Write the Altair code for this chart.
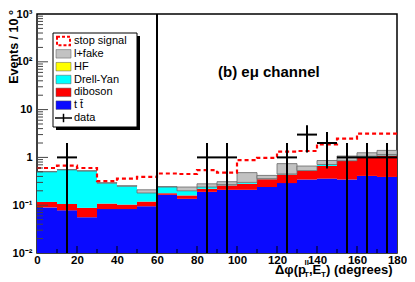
import altair as alt
import pandas as pd
import numpy as np

# ---------------- data ----------------
bin_lo = [0, 10, 20, 30, 40, 50, 60, 70, 80, 90, 100, 110, 120, 130, 140, 150, 160, 170]
ttbar = [0.090, 0.078, 0.056, 0.083, 0.083, 0.095, 0.165, 0.136, 0.19, 0.21, 0.21, 0.24,
         0.29, 0.345, 0.36, 0.345, 0.41, 0.39]
diboson = [0.027, 0.028, 0.032, 0.025, 0.020, 0.024, 0.013, 0.024, 0.03, 0.05, 0.07, 0.11,
           0.15, 0.175, 0.30, 0.495, 0.62, 0.71]
drell_yan = [0.383, 0.444, 0.432, 0.182, 0.147, 0.061, 0.062, 0.04, 0.02, 0.01, 0.02, 0.01,
             0.01, 0.01, 0.05, 0.01, 0.03, 0.05]
hf = [0, 0, 0, 0, 0, 0, 0, 0, 0, 0, 0, 0, 0, 0, 0, 0, 0, 0]
lfake = [0.005, 0.005, 0.005, 0.005, 0.005, 0.03, 0.005, 0.04, 0.04, 0.04, 0.18, 0.06,
         0.29, 0.13, 0.15, 0.22, 0.19, 0.25]
stop_total = [0.60, 0.67, 0.60, 0.32, 0.36, 0.39, 0.46, 0.45, 0.54, 0.48, 0.88, 0.98,
              1.32, 1.36, 1.88, 2.47, 3.15, 3.15]
data_counts = [0, 1, 0, 0, 0, 0, 0, 0, 1, 1, 0, 0, 1, 3, 2, 1, 1, 1]

proc_names = ["t t\u0304", "diboson", "Drell-Yan", "HF", "l+fake"]
proc_vals = [ttbar, diboson, drell_yan, hf, lfake]
proc_colors = ["#0a0aff", "#ff0000", "#00ffff", "#ffff00", "#c2c2c2"]
y_label_values = [0.01, 0.1, 1, 10, 100, 1000]
x_label_values = [0, 20, 40, 60, 80, 100, 120, 140, 160, 180]
legend_labels = ["stop signal", "l+fake", "HF", "Drell-Yan", "diboson", "t t\u0304", "data"]
legend_fills = ["#ffffff", "#c2c2c2", "#ffff00", "#00ffff", "#ff0000", "#0a0aff", "#ffffff"]

# ---------------- tables ----------------
BIN_W = 10
YMIN = 0.01
rows = []
for i, lo in enumerate(bin_lo):
    cum = 0.0
    for name, vals in zip(proc_names, proc_vals):
        bottom = max(cum, YMIN / 10)
        cum += vals[i]
        if vals[i] > 0:
            rows.append({"proc": name, "lo": lo, "hi": lo + BIN_W, "bottom": bottom, "top": cum})
stack_df = pd.DataFrame(rows)

stop_df = pd.DataFrame({"x": bin_lo + [bin_lo[-1] + BIN_W], "y": stop_total + [stop_total[-1]]})

drows = []
for lo, n in zip(bin_lo, data_counts):
    if n > 0:
        drows.append({"lo": lo, "hi": lo + BIN_W, "c": lo + BIN_W / 2, "n": n,
                      "elo": max(n - np.sqrt(n), YMIN / 10), "ehi": n + np.sqrt(n)})
data_df = pd.DataFrame(drows)

W, H = 360, 239
FONT = "Liberation Sans"
xs = alt.Scale(domain=[0, 180], nice=False, zero=False)
ys = alt.Scale(type="log", domain=[0.01, 1000], nice=False)


def X(f):
    return alt.X(f + ":Q", scale=xs, axis=None)


def Y(f):
    return alt.Y(f + ":Q", scale=ys, axis=None)


label_expr = ("datum.value < 0.05 ? '10\u207b\u00b2' : datum.value < 0.5 ? '10\u207b\u00b9' : "
              "datum.value < 5 ? '1' : datum.value < 50 ? '10' : datum.value < 500 ? '10\u00b2' : '10\u00b3'")

stack = alt.Chart(stack_df).mark_rect(clip=True).encode(
    x=alt.X("lo:Q", scale=xs, axis=alt.Axis(values=x_label_values, ticks=False, domain=False, grid=False,
                                             title=None, labelFont=FONT, labelFontWeight="bold",
                                             labelFontSize=11.5, labelPadding=1, labelFlush=False,
                                             labelColor="black")),
    x2="hi:Q",
    y=alt.Y("bottom:Q", scale=ys, axis=alt.Axis(values=y_label_values, labelExpr=label_expr, ticks=False,
                                                 domain=False, grid=False, title=None, labelFont=FONT,
                                                 labelFontWeight="bold", labelFontSize=11, labelPadding=5,
                                                 labelColor="black")),
    y2="top:Q",
    color=alt.Color("proc:N", scale=alt.Scale(domain=proc_names, range=proc_colors), legend=None),
)

fake = alt.Chart(stack_df[stack_df["proc"] == "l+fake"]).mark_rect(
    clip=True, fill="#c2c2c2", stroke="#6a6a6a", strokeWidth=0.8).encode(
    x=X("lo"), x2="hi:Q", y=Y("bottom"), y2="top:Q")

stop = alt.Chart(stop_df).mark_line(interpolate="step-after", color="#ff0000", strokeWidth=2.2,
                                    strokeDash=[4, 3], clip=True).encode(x=X("x"), y=Y("y"))

cut = alt.Chart(pd.DataFrame({"v": [60]})).mark_rule(color="black", strokeWidth=2).encode(
    x=X("v"), y=alt.value(0), y2=alt.value(H))

dh = alt.Chart(data_df).mark_rule(color="black", strokeWidth=2, clip=True).encode(
    x=X("lo"), x2="hi:Q", y=Y("n"))
dv = alt.Chart(data_df).mark_rule(color="black", strokeWidth=2, clip=True).encode(
    x=X("c"), y=Y("elo"), y2="ehi:Q")

# axis ticks drawn inside the frame (ROOT style)
major_y = pd.DataFrame({"v": y_label_values[1:-1]})
minor_y = pd.DataFrame({"v": [k * 10.0 ** d for d in range(-2, 3) for k in range(2, 10)]})
tmaj_y = alt.Chart(major_y).mark_rule(color="#444444").encode(y=Y("v"), x=alt.value(0), x2=alt.value(11))
tmin_y = alt.Chart(minor_y).mark_rule(color="#444444").encode(y=Y("v"), x=alt.value(0), x2=alt.value(6))
major_x = pd.DataFrame({"v": x_label_values[1:-1]})
minor_x = pd.DataFrame({"v": list(range(10, 180, 20))})
tmaj_x = alt.Chart(major_x).mark_rule(color="black").encode(x=X("v"), y=alt.value(H), y2=alt.value(H - 7))
tmin_x = alt.Chart(minor_x).mark_rule(color="black").encode(x=X("v"), y=alt.value(H), y2=alt.value(H - 4))

# ---------------- legend ----------------
leg_df = pd.DataFrame({"label": legend_labels, "fill": legend_fills, "row": list(range(len(legend_labels)))})
leg_df["t"] = leg_df["row"] - 0.33
leg_df["b"] = leg_df["row"] + 0.33
ls = alt.Scale(domain=[0, 6], range=[27, 104])
dummy = pd.DataFrame({"a": [0]})
shadow = alt.Chart(dummy).mark_rect(fill="black").encode(
    x=alt.value(19), x2=alt.value(103), y=alt.value(22), y2=alt.value(116))
box = alt.Chart(dummy).mark_rect(fill="white", stroke="black", strokeWidth=1).encode(
    x=alt.value(16), x2=alt.value(100), y=alt.value(19), y2=alt.value(113))
sw = alt.Chart(leg_df[(leg_df["row"] >= 1) & (leg_df["row"] <= 5)]).mark_rect(stroke="#555555", strokeWidth=0.5).encode(
    x=alt.value(19), x2=alt.value(34), y=alt.Y("t:Q", scale=ls, axis=None), y2="b:Q",
    fill=alt.Fill("fill:N", scale=None))
sw_stop = alt.Chart(leg_df[leg_df["row"] == 0]).mark_rect(fill="white", stroke="#ff0000", strokeWidth=2,
                                                            strokeDash=[3, 2]).encode(
    x=alt.value(20), x2=alt.value(33), y=alt.Y("t:Q", scale=ls, axis=None), y2="b:Q")
sw_dh = alt.Chart(leg_df[leg_df["row"] == 6]).mark_rule(color="black", strokeWidth=1.5).encode(
    x=alt.value(18), x2=alt.value(35), y=alt.Y("row:Q", scale=ls, axis=None))
sw_dv = alt.Chart(leg_df[leg_df["row"] == 6]).mark_rule(color="black", strokeWidth=1.5).encode(
    x=alt.value(26.5), y=alt.Y("t:Q", scale=ls, axis=None), y2="b:Q")
ltext = alt.Chart(leg_df).mark_text(align="left", baseline="middle", font=FONT, fontSize=11, color="black").encode(
    x=alt.value(37), y=alt.Y("row:Q", scale=ls, axis=None), text="label:N")

# ---------------- texts ----------------
def txt(s, x, y, size=13, weight="bold", align="left", baseline="alphabetic", angle=0):
    kw = dict(align=align, baseline=baseline, font=FONT, fontSize=size, fontWeight=weight, color="black")
    if angle:
        kw["angle"] = angle
    return alt.Chart(pd.DataFrame({"t": [s]})).mark_text(**kw).encode(
        x=alt.value(x), y=alt.value(y), text="t:N")

chan = txt("(b)   e\u03bc channel", 181, 63, size=15)
ytitle = txt("Events / 10 \u00b0", -23, -4, size=12.5, align="right", baseline="middle", angle=270)
TB = 260
xt1 = txt("\u0394\u03c6(p", 238, TB, size=13)
xt2 = txt("T", 267, TB + 3, size=8)
xt3 = txt("ll", 267.5, TB - 9, size=8)
xt4 = txt(",E", 272, TB, size=13)
xt5 = txt("T", 284, TB + 3, size=8)
xt6 = txt(")  (degrees)", 289, TB, size=13)

chart = alt.layer(
    stack, fake, stop, cut, dh, dv, tmaj_y, tmin_y, tmaj_x, tmin_x,
    shadow, box, sw, sw_stop, sw_dh, sw_dv, ltext,
    chan, ytitle, xt1, xt2, xt3, xt4, xt5, xt6,
).resolve_scale(y="independent", x="independent").properties(
    width=W, height=H, autosize=alt.AutoSizeParams(type="none"),
    padding={"left": 29, "top": 6, "right": 10, "bottom": 25},
).configure_view(stroke="black", strokeWidth=1.5)

chart.save("out.html", embed_options={"renderer": "svg", "actions": False})
